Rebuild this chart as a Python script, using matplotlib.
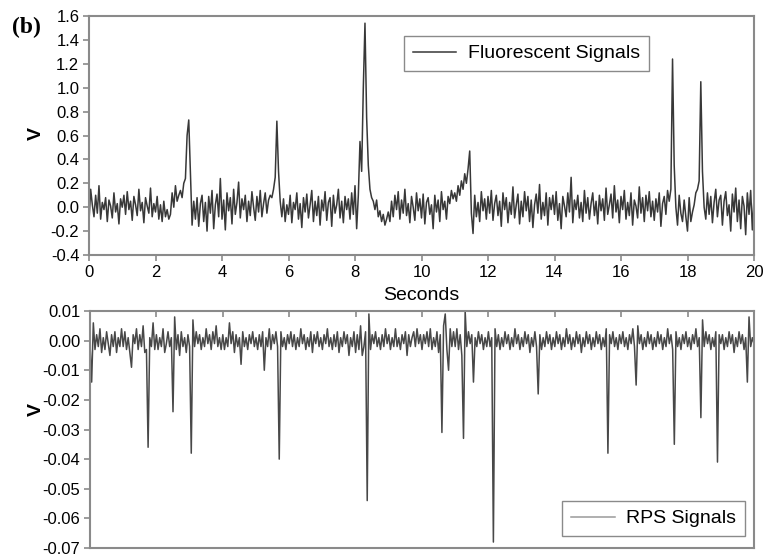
import numpy as np
import matplotlib
matplotlib.use("Agg")
import matplotlib.pyplot as plt

# ---- data (sample spacing 0.05 s) ----
dt = 0.05
fluor_signal_V = [
    -0.12, 0.15, 0.02, -0.08, 0.10, -0.05, 0.18, -0.10, 0.04, -0.02, 0.08, -0.12, 0.06, 0.01, -0.09, 0.12, -0.04, 0.03, -0.14, 0.07,
    0.00, 0.10, -0.06, 0.13, -0.02, 0.05, -0.11, 0.09, 0.02, -0.07, 0.15, -0.03, 0.04, -0.13, 0.08, 0.01, -0.05, 0.16, -0.08, 0.03,
    -0.04, 0.09, -0.10, 0.02, -0.12, 0.05, -0.08, -0.02, -0.10, -0.06, 0.12, 0.00, 0.18, 0.05, 0.10, 0.14, 0.08, 0.20, 0.24, 0.60,
    0.73, 0.30, -0.15, 0.05, -0.10, 0.08, -0.16, 0.03, 0.10, -0.12, 0.04, -0.20, 0.09, -0.05, 0.14, -0.18, 0.02, 0.11, -0.08, 0.24,
    -0.10, 0.06, -0.19, 0.12, -0.03, 0.08, -0.14, 0.15, -0.06, 0.04, 0.21, -0.09, 0.07, -0.02, 0.10, -0.12, 0.05, -0.07, 0.13, 0.00,
    -0.11, 0.09, -0.04, 0.14, -0.08, 0.03, 0.12, -0.05, 0.06, 0.10, 0.08, 0.15, 0.25, 0.72, 0.30, 0.05, -0.08, 0.07, -0.12, 0.02,
    -0.06, 0.10, -0.13, 0.04, -0.02, 0.12, -0.10, 0.03, -0.17, 0.08, -0.04, 0.11, -0.09, 0.02, 0.14, -0.12, 0.05, -0.07, 0.09, -0.15,
    0.06, -0.03, 0.13, -0.11, 0.04, 0.08, -0.16, 0.10, -0.05, 0.02, 0.15, -0.09, 0.05, -0.13, 0.09, -0.02, 0.07, -0.10, 0.12, -0.06,
    0.18, -0.18, 0.10, 0.55, 0.30, 1.00, 1.54, 0.75, 0.35, 0.15, 0.08, 0.05, -0.02, 0.06, -0.08, -0.03, -0.12, -0.06, -0.15, -0.10,
    -0.04, -0.12, 0.05, -0.08, 0.10, -0.02, 0.13, -0.10, 0.06, -0.05, 0.15, -0.07, 0.03, -0.13, 0.09, 0.00, -0.11, 0.12, -0.03, 0.07,
    -0.09, 0.11, -0.14, 0.04, 0.08, -0.06, 0.02, -0.18, 0.10, -0.04, 0.06, -0.12, 0.13, -0.02, 0.05, -0.10, 0.09, 0.03, 0.14, 0.07,
    0.12, 0.05, 0.18, 0.10, 0.22, 0.15, 0.28, 0.20, 0.32, 0.47, -0.05, -0.22, 0.10, -0.08, 0.04, -0.12, 0.13, -0.03, 0.07, -0.10,
    0.09, -0.05, 0.14, -0.11, 0.03, 0.10, -0.07, 0.05, -0.16, 0.12, -0.02, 0.08, -0.13, 0.04, -0.06, 0.17, -0.09, 0.02, 0.11, -0.14,
    0.05, -0.08, 0.13, -0.03, 0.09, -0.12, 0.06, -0.17, 0.02, 0.11, -0.05, 0.19, -0.10, 0.04, -0.07, 0.12, -0.15, 0.08, -0.02, 0.10,
    -0.06, 0.13, -0.11, 0.03, -0.18, 0.09, 0.01, -0.08, 0.12, -0.04, 0.25, -0.13, 0.06, -0.02, 0.10, -0.09, 0.04, -0.12, 0.14, -0.05,
    0.08, -0.10, 0.03, 0.12, -0.07, 0.05, -0.14, 0.10, -0.03, 0.07, -0.11, 0.16, -0.06, 0.02, 0.11, -0.09, 0.18, -0.04, 0.06, -0.13,
    0.09, -0.02, 0.14, -0.10, 0.04, -0.07, 0.12, -0.15, 0.06, 0.01, -0.09, 0.17, -0.05, 0.08, -0.12, 0.10, -0.03, 0.13, -0.08, 0.05,
    -0.11, 0.07, -0.04, 0.12, -0.16, 0.03, 0.09, -0.06, 0.14, 0.05, 0.15, 1.24, 0.35, 0.00, -0.15, 0.10, -0.05, -0.12, 0.06, -0.08,
    -0.20, 0.08, -0.12, -0.04, 0.02, 0.12, 0.15, 0.22, 1.05, 0.30, 0.00, -0.10, 0.12, -0.06, 0.09, -0.13, 0.04, 0.15, -0.08, 0.06,
    0.10, -0.15, 0.05, 0.13, -0.07, 0.02, -0.20, 0.11, -0.04, 0.16, -0.12, 0.06, -0.18, 0.09, 0.01, -0.23, 0.12, -0.06, 0.14, -0.19,
    0.08,
]
rps_signal_mV = [
    -1, -14, 6, -3, 2, -2, 4, -4, 1, -3, 3, -1, -5, 2, -2, 3, -4, 1, -2, 4,
    -2, 3, -3, 1, -4, -9, 2, -1, 4, -3, 2, -2, 5, -4, -3, -36, 1, -2, 6, -3,
    2, -3, 1, -2, 4, -4, -1, 3, -2, 1, -24, 8, -3, 2, -5, 3, -2, 1, -4, 2,
    -2, -38, 7, -2, 3, -1, 2, -3, 1, -2, 4, -1, 2, -3, 3, -1, 5, -2, 1, -3,
    2, -3, 1, -2, 6, -1, 3, -4, 2, -2, 1, -8, 3, -2, 1, -3, 2, -1, 3, -2,
    1, -3, 2, -2, 3, -10, 1, -2, 4, -3, 2, -1, 3, -2, -40, 3, -2, 1, -3, 2,
    -1, 3, -2, 2, -3, 1, -2, 4, -1, 2, -3, 1, -2, 3, -4, 2, -1, 3, -2, 1,
    -3, 2, -1, 4, -2, 1, -3, 2, -2, 3, -4, 1, -2, 3, -1, 2, -5, 1, -2, 3,
    -4, 2, -3, 5, -5, -2, 3, -54, 9, -3, 2, -1, 3, -2, 1, -3, 2, -2, 4, -1,
    2, -3, 1, -2, 4, -2, 1, -3, 2, -1, 3, -5, 2, -2, 1, 3, -2, 4, -1, 2,
    -3, 2, -1, 3, -2, 4, -3, 1, -2, 3, -4, 2, -31, 5, 9, -3, -10, 4, -2, 3,
    -2, 4, -3, 2, -5, -33, 10, -2, 3, -1, 2, -14, 1, -2, 3, -1, 2, -3, 1, -2,
    3, -2, 1, -68, 4, -2, 2, -3, 1, -2, 3, -1, 2, -3, 1, -2, 4, -1, 2, -3,
    1, -2, 3, -1, 2, -4, 1, -2, 3, -2, -18, 2, -3, 1, -2, 3, -1, 2, -3, 1,
    -2, 3, -1, 2, -3, 1, -2, 4, -1, 2, -3, 1, -2, 3, -1, 2, -4, 1, -2, 3,
    -1, 2, -3, 1, -2, 3, -1, 2, -3, 1, -2, 4, -38, 2, -1, 3, -2, 1, -3, 2,
    -1, 3, -2, 1, -3, 2, -1, 4, -2, -15, 5, -1, 2, -3, 1, -2, 3, -1, 2, -3,
    1, -2, 3, -1, 2, -3, 1, -2, 4, -1, 2, -3, -35, 3, -2, 1, -3, 2, -1, 3,
    -2, 1, -3, 2, -1, 4, -2, 1, -26, 7, -2, 3, -1, 2, -3, 1, -2, 3, -41, 2,
    -1, 2, -3, 1, -2, 3, -1, 2, -4, 1, -2, 3, -1, 2, -3, 1, -14, 8, -2, 1,
    -1,
]
top_yticks = [-0.4, -0.2, 0.0, 0.2, 0.4, 0.6, 0.8, 1.0, 1.2, 1.4, 1.6]
bot_yticks = [-0.07, -0.06, -0.05, -0.04, -0.03, -0.02, -0.01, 0.00, 0.01]
xticks = [0, 2, 4, 6, 8, 10, 12, 14, 16, 18, 20]

t_fluor = np.arange(len(fluor_signal_V)) * dt
t_rps = np.arange(len(rps_signal_mV)) * dt
rps_V = np.array(rps_signal_mV) / 1000.0

plt.rcParams['font.family'] = ['Liberation Sans', 'DejaVu Sans']
W, H = 770, 557
fig = plt.figure(figsize=(W / 100, H / 100), dpi=100)

spine_c = '#8a8a8a'
line_c = '#383838'
tick_fs = 12

ax1 = fig.add_axes([89 / W, 1 - 255 / H, (754 - 89) / W, (255 - 16) / H])
ax2 = fig.add_axes([90 / W, 1 - 548 / H, (754 - 90) / W, (548 - 311) / H])

l1, = ax1.plot(t_fluor, fluor_signal_V, color=line_c, lw=1.1, label='Fluorescent Signals')
l2, = ax2.plot(t_rps, rps_V, color='#484848', lw=1.1, label='RPS Signals')

ax1.set_xlim(0, 20)
ax1.set_ylim(-0.4, 1.6)
ax1.set_xticks(xticks)
ax1.set_xticklabels([str(v) for v in xticks])
ax1.set_yticks(top_yticks)
ax1.set_yticklabels([f'{v:.1f}' for v in top_yticks])
ax1.tick_params(direction='out', length=4, width=1.2, color=spine_c, labelsize=tick_fs, pad=3)

ax2.set_xlim(0, 20)
ax2.set_ylim(-0.07, 0.01)
ax2.set_yticks(bot_yticks)
ax2.set_yticklabels([f'{v:.2f}' for v in bot_yticks])
ax2.set_xticks(xticks)
ax2.tick_params(axis='x', bottom=False, top=True, labelbottom=False, direction='in',
                length=4, width=1.2, color=spine_c)
ax2.tick_params(axis='y', direction='out', length=4, width=1.2, color=spine_c, labelsize=tick_fs, pad=3)

for ax in (ax1, ax2):
    for s in ax.spines.values():
        s.set_color(spine_c)
        s.set_linewidth(1.5)

fig.text(421.5 / W, 1 - 295.5 / H, 'Seconds', fontsize=14, ha='center', va='center')
fig.text(36 / W, 1 - 134 / H, 'V', fontsize=14, fontweight='bold', rotation=90, ha='center', va='center')
fig.text(36 / W, 1 - 409 / H, 'V', fontsize=14, fontweight='bold', rotation=90, ha='center', va='center')
fig.text(26 / W, 1 - 27 / H, '(b)', fontsize=17, fontweight='bold', family=['Liberation Serif'],
         ha='center', va='center')

leg_kw = dict(loc='upper left', bbox_transform=fig.transFigure, borderaxespad=0, fancybox=False,
              fontsize=14, handlelength=2.25, handletextpad=0.6, borderpad=0.45,
              edgecolor=spine_c, framealpha=1)
leg1 = ax1.legend(handles=[l1], bbox_to_anchor=(404 / W, 1 - 36 / H), **leg_kw)
leg1.get_frame().set_linewidth(1.0)
leg2 = ax2.legend(handles=[l2], bbox_to_anchor=(562 / W, 1 - 501 / H), **leg_kw)
leg2.get_frame().set_linewidth(1.0)
leg2.get_lines()[0].set_color('#9a9a9a')

fig.savefig('out.png', dpi=100)
